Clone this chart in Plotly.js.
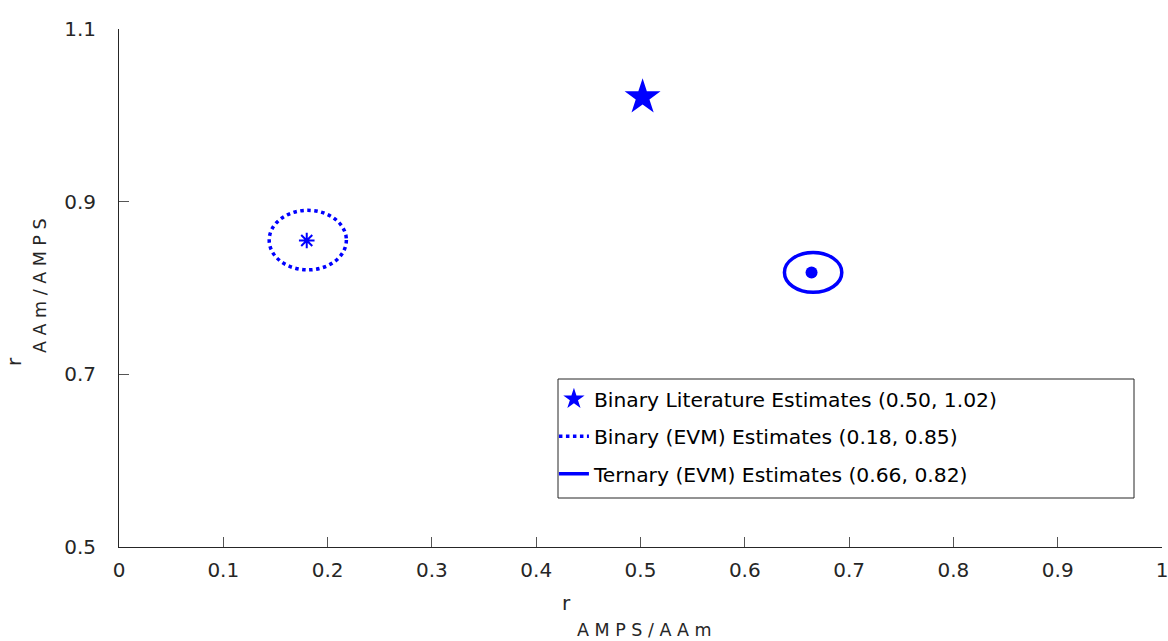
<!DOCTYPE html>
<html>
<head>
<meta charset="utf-8">
<script src="https://cdn.plot.ly/plotly-3.0.1.min.js"></script>
<style>html,body{margin:0;padding:0;background:#fff;}#chart{width:1168px;height:641px;}</style>
</head>
<body>
<div id="chart"></div>
<script>
// ---- data ----
var seriesNames = [
  'Binary Literature Estimates (0.50, 1.02)',
  'Binary (EVM) Estimates (0.18, 0.85)',
  'Ternary (EVM) Estimates (0.66, 0.82)'
];
var literatureX = [0.502];
var literatureY = [1.021];
var binaryCenterX = [0.180];
var binaryCenterY = [0.855];
var ternaryCenterX = [0.664];
var ternaryCenterY = [0.818];
// ellipse bounds [xmin, xmax, ymin, ymax]
var binaryEllipse = [0.144, 0.218, 0.821, 0.890];
var ternaryEllipse = [0.638, 0.693, 0.795, 0.841];
var xTicks = [0, 0.1, 0.2, 0.3, 0.4, 0.5, 0.6, 0.7, 0.8, 0.9, 1];
var xTickText = ['0', '0.1', '0.2', '0.3', '0.4', '0.5', '0.6', '0.7', '0.8', '0.9', '1'];
var yTicks = [0.5, 0.7, 0.9, 1.1];
var yTickText = ['0.5', '0.7', '0.9', '1.1'];

var BLUE = '#0000FF';
var FONT = 'DejaVu Sans, Arial, sans-serif';
var TXT = '#262626';

var traces = [
  {x: literatureX, y: literatureY, mode: 'markers', type: 'scatter', name: seriesNames[0],
   legendgroup: 'a', marker: {symbol: 'star', size: 27, color: BLUE}, hoverinfo: 'x+y'},
  {x: [null], y: [null], mode: 'lines', type: 'scatter', name: seriesNames[1],
   legendgroup: 'b', line: {color: BLUE, width: 3.5, dash: 'dot'}},
  {x: [null], y: [null], mode: 'lines', type: 'scatter', name: seriesNames[2],
   legendgroup: 'c', line: {color: BLUE, width: 3.5}},
  {x: binaryCenterX, y: binaryCenterY, mode: 'markers', type: 'scatter', showlegend: false,
   marker: {symbol: 'asterisk-open', size: 13, color: BLUE, line: {color: BLUE, width: 2}}},
  {x: ternaryCenterX, y: ternaryCenterY, mode: 'markers', type: 'scatter', showlegend: false,
   marker: {symbol: 'circle', size: 12, color: BLUE}}
];

var layout = {
  width: 1168, height: 641,
  margin: {l: 119, r: 6, t: 29, b: 94},
  paper_bgcolor: '#fff', plot_bgcolor: '#fff',
  font: {family: FONT, size: 20, color: TXT},
  showlegend: true,
  legend: {
    x: 0.417, xanchor: 'left', y: 0.324, yanchor: 'top',
    bgcolor: 'rgba(0,0,0,0)', borderwidth: 0,
    font: {family: FONT, size: 20.3, color: '#000'},
    traceorder: 'grouped', tracegroupgap: 8, itemwidth: 30
  },
  xaxis: {
    range: [0, 1], tickvals: xTicks, ticktext: xTickText,
    showline: true, linecolor: TXT, linewidth: 1, mirror: false,
    ticks: 'inside', ticklen: 10, tickcolor: '#555', tickwidth: 1,
    showgrid: false, zeroline: false, ticklabelstandoff: 5,
    ticklabeloverflow: 'allow',
    tickfont: {family: FONT, size: 20, color: TXT}
  },
  yaxis: {
    range: [0.5, 1.1], tickvals: yTicks, ticktext: yTickText,
    showline: true, linecolor: TXT, linewidth: 1, mirror: false,
    ticks: 'inside', ticklen: 10, tickcolor: '#555', tickwidth: 1,
    showgrid: false, zeroline: false, ticklabelstandoff: 18,
    ticklabeloverflow: 'allow',
    tickfont: {family: FONT, size: 20, color: TXT}
  },
  shapes: [
    {type: 'circle', xref: 'x', yref: 'y',
     x0: binaryEllipse[0], x1: binaryEllipse[1], y0: binaryEllipse[2], y1: binaryEllipse[3],
     line: {color: BLUE, width: 3.5, dash: 'dot'}},
    {type: 'circle', xref: 'x', yref: 'y',
     x0: ternaryEllipse[0], x1: ternaryEllipse[1], y0: ternaryEllipse[2], y1: ternaryEllipse[3],
     line: {color: BLUE, width: 3.5}},
    {type: 'rect', xref: 'paper', yref: 'paper',
     x0: (558 - 119) / 1043, x1: (1134 - 119) / 1043,
     y0: (547 - 498) / 518, y1: (547 - 379) / 518,
     line: {color: '#262626', width: 1}, fillcolor: 'rgba(0,0,0,0)', layer: 'below'}
  ],
  annotations: [
    {text: 'r', xref: 'paper', yref: 'paper', x: (566 - 119) / 1043, y: -(603 - 547) / 518,
     xanchor: 'center', yanchor: 'middle', showarrow: false, font: {family: FONT, size: 20, color: TXT}},
    {text: 'A M P S / A A m', xref: 'paper', yref: 'paper', x: (575 - 119) / 1043, y: -(630 - 547) / 518,
     xanchor: 'left', yanchor: 'middle', showarrow: false, font: {family: FONT, size: 17.5, color: TXT}},
    {text: 'r', xref: 'paper', yref: 'paper', x: -(119 - 14) / 1043, y: (547 - 362) / 518,
     xanchor: 'center', yanchor: 'middle', textangle: -90, showarrow: false, font: {family: FONT, size: 20, color: TXT}},
    {text: 'A A m / A M P S', xref: 'paper', yref: 'paper', x: -(119 - 40) / 1043, y: (547 - 286) / 518,
     xanchor: 'center', yanchor: 'middle', textangle: -90, showarrow: false, font: {family: FONT, size: 17.5, color: TXT}}
  ]
};

Plotly.newPlot('chart', traces, layout, {displayModeBar: false, responsive: false});
</script>
</body>
</html>
